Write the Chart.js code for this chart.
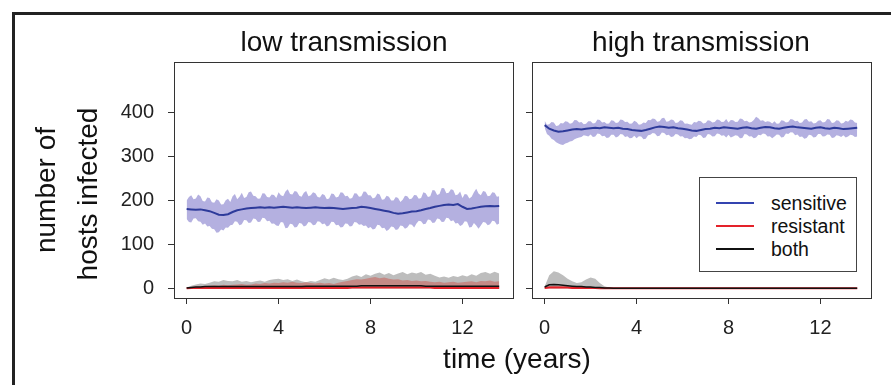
<!DOCTYPE html>
<html>
<head>
<meta charset="utf-8">
<title>number of hosts infected</title>
<script src="https://cdn.jsdelivr.net/npm/chart.js@4.4.1/dist/chart.umd.min.js"></script>
<style>
  html, body { margin: 0; padding: 0; background: #fff; }
  body {
    width: 891px; height: 385px; position: relative; overflow: hidden;
    font-family: 'Liberation Sans', Arial, sans-serif; color: #111;
  }
  .frame {
    position: absolute; left: 12px; top: 12px; width: 900px; height: 400px;
    border-top: 3px solid #222; border-left: 3px solid #222;
  }
  canvas { position: absolute; left: 0; top: 0; }
  .lbl { position: absolute; font-size: 28px; line-height: 28px; white-space: nowrap; }
  .title { top: 28px; transform: translateX(-50%); }
  .ylab { transform: translate(-50%, -50%) rotate(-90deg); }
  .legend {
    position: absolute; left: 699px; top: 177px; width: 158px; height: 95px;
    border: 1px solid #444; background: #fff; box-sizing: border-box;
  }
  .legend div { position: absolute; left: 71px; font-size: 19.5px; line-height: 20px; }
  .legend span { position: absolute; left: -55px; top: 9px; width: 38px; height: 2px; }
</style>
</head>
<body>
<div class="frame"></div>

<canvas id="lowChart" width="891" height="385"></canvas>
<canvas id="highChart" width="891" height="385"></canvas>

<div class="lbl title" style="left:344px">low transmission</div>
<div class="lbl title" style="left:701px">high transmission</div>
<div class="lbl ylab" style="left:46px; top:190px">number of</div>
<div class="lbl ylab" style="left:88px; top:194px">hosts infected</div>
<div class="lbl title" style="left:517px; top:345px">time (years)</div>

<div class="legend" id="legend"></div>

<script>
// sampling times (years) of the running means, every 0.2 year
const years = [
  0, 0.2, 0.4, 0.6, 0.8, 1, 1.2, 1.4, 1.6, 1.8,
  2, 2.2, 2.4, 2.6, 2.8, 3, 3.2, 3.4, 3.6, 3.8,
  4, 4.2, 4.4, 4.6, 4.8, 5, 5.2, 5.4, 5.6, 5.8,
  6, 6.2, 6.4, 6.6, 6.8, 7, 7.2, 7.4, 7.6, 7.8,
  8, 8.2, 8.4, 8.6, 8.8, 9, 9.2, 9.4, 9.6, 9.8,
  10, 10.2, 10.4, 10.6, 10.8, 11, 11.2, 11.4, 11.6, 11.8,
  12, 12.2, 12.4, 12.6, 12.8, 13, 13.2, 13.4, 13.6
];
// finer sampling for the noisy "sensitive" envelopes, every 0.1 year
const bandYears = [
  0, 0.1, 0.2, 0.3, 0.4, 0.5, 0.6, 0.7, 0.8, 0.9,
  1, 1.1, 1.2, 1.3, 1.4, 1.5, 1.6, 1.7, 1.8, 1.9,
  2, 2.1, 2.2, 2.3, 2.4, 2.5, 2.6, 2.7, 2.8, 2.9,
  3, 3.1, 3.2, 3.3, 3.4, 3.5, 3.6, 3.7, 3.8, 3.9,
  4, 4.1, 4.2, 4.3, 4.4, 4.5, 4.6, 4.7, 4.8, 4.9,
  5, 5.1, 5.2, 5.3, 5.4, 5.5, 5.6, 5.7, 5.8, 5.9,
  6, 6.1, 6.2, 6.3, 6.4, 6.5, 6.6, 6.7, 6.8, 6.9,
  7, 7.1, 7.2, 7.3, 7.4, 7.5, 7.6, 7.7, 7.8, 7.9,
  8, 8.1, 8.2, 8.3, 8.4, 8.5, 8.6, 8.7, 8.8, 8.9,
  9, 9.1, 9.2, 9.3, 9.4, 9.5, 9.6, 9.7, 9.8, 9.9,
  10, 10.1, 10.2, 10.3, 10.4, 10.5, 10.6, 10.7, 10.8, 10.9,
  11, 11.1, 11.2, 11.3, 11.4, 11.5, 11.6, 11.7, 11.8, 11.9,
  12, 12.1, 12.2, 12.3, 12.4, 12.5, 12.6, 12.7, 12.8, 12.9,
  13, 13.1, 13.2, 13.3, 13.4, 13.5, 13.6
];

const xTicks = [0, 4, 8, 12];
const yTicks = [0, 100, 200, 300, 400];
const seriesNames = ['sensitive', 'resistant', 'both'];

/* low transmission */
const lowSensMean = [
  181, 180, 179, 180, 178, 176, 172, 168, 167, 169,
  174, 178, 180, 182, 183, 184, 185, 184, 185, 184,
  185, 186, 185, 184, 185, 184, 183, 184, 185, 184,
  183, 184, 183, 182, 181, 182, 183, 184, 186, 185,
  183, 181, 179, 177, 175, 172, 170, 171, 173, 175,
  176, 178, 181, 183, 186, 188, 190, 191, 190, 192,
  186, 181, 182, 184, 186, 187, 188, 187, 188
];
const lowSensHigh = [
  200, 208, 212, 203, 205, 214, 210, 199, 198, 207,
  206, 196, 195, 203, 200, 191, 192, 201, 204, 197,
  210, 215, 203, 209, 218, 206, 208, 219, 221, 211,
  210, 204, 205, 217, 216, 208, 207, 214, 213, 206,
  219, 212, 210, 221, 226, 215, 214, 222, 220, 211,
  209, 218, 222, 210, 212, 219, 217, 208, 207, 215,
  213, 203, 205, 216, 215, 207, 209, 219, 218, 210,
  211, 204, 206, 217, 216, 209, 210, 221, 220, 212,
  212, 205, 207, 216, 214, 202, 203, 211, 209, 200,
  200, 208, 206, 197, 202, 211, 210, 203, 205, 213,
  212, 204, 206, 219, 217, 208, 210, 224, 223, 213,
  215, 229, 228, 217, 218, 226, 224, 212, 214, 221,
  206, 215, 214, 205, 209, 219, 227, 216, 212, 222,
  220, 210, 211, 219, 218, 209, 210
];
const lowSensLow = [
  158, 151, 150, 159, 160, 153, 152, 145, 148, 141,
  142, 136, 135, 127, 128, 134, 132, 139, 138, 144,
  145, 153, 152, 144, 146, 156, 155, 149, 150, 159,
  158, 151, 152, 161, 160, 153, 154, 147, 148, 143,
  142, 151, 150, 137, 138, 147, 146, 139, 140, 149,
  148, 141, 143, 151, 150, 144, 145, 153, 152, 146,
  148, 141, 143, 152, 151, 144, 145, 139, 140, 148,
  147, 141, 142, 151, 150, 145, 146, 142, 143, 137,
  140, 134, 136, 145, 144, 137, 138, 131, 134, 141,
  140, 133, 135, 143, 142, 136, 139, 146, 145, 139,
  148, 154, 153, 146, 147, 157, 156, 149, 150, 159,
  158, 151, 152, 161, 160, 153, 155, 148, 149, 142,
  145, 153, 152, 139, 140, 149, 143, 136, 143, 151,
  150, 144, 146, 154, 153, 145, 148
];
const lowResMean = [
  0, 1, 1, 1, 1, 1, 1, 1, 1, 1,
  1, 1, 1, 1, 1, 1, 1, 1, 1, 1,
  1, 1, 1, 1, 1, 1, 1, 1, 1, 1,
  1, 1, 1, 1, 1, 1, 2, 2, 2, 2,
  2, 2, 2, 2, 2, 2, 2, 2, 2, 2,
  2, 2, 2, 2, 1, 1, 1, 1, 1, 1,
  1, 1, 1, 1, 1, 1, 1, 1, 1
];
const lowResHigh = [
  1, 3, 4, 5, 5, 6, 7, 6, 8, 7,
  8, 9, 10, 8, 9, 11, 10, 12, 11, 13,
  12, 14, 13, 15, 13, 12, 14, 12, 11, 13,
  11, 12, 10, 13, 15, 17, 19, 21, 20, 22,
  24, 26, 23, 25, 22, 20, 21, 18, 19, 17,
  18, 16, 17, 15, 14, 15, 13, 14, 15, 13,
  14, 15, 16, 14, 17, 16, 18, 15, 16
];
const lowBothMean = [
  1, 2, 3, 3, 4, 4, 4, 4, 4, 4,
  4, 4, 4, 4, 4, 4, 4, 4, 4, 4,
  4, 4, 4, 4, 4, 4, 5, 5, 5, 5,
  5, 5, 5, 5, 5, 5, 5, 5, 6, 6,
  6, 6, 6, 6, 6, 6, 6, 6, 6, 6,
  6, 6, 5, 5, 5, 5, 5, 5, 5, 5,
  5, 5, 5, 5, 5, 5, 5, 5, 5
];
const lowBothHigh = [
  2, 6, 9, 11, 10, 13, 16, 15, 19, 17,
  16, 19, 15, 17, 14, 16, 18, 15, 19, 21,
  22, 19, 21, 17, 20, 16, 14, 17, 15, 19,
  23, 20, 24, 21, 19, 22, 27, 30, 26, 32,
  29, 33, 36, 31, 35, 30, 34, 37, 32, 36,
  34, 37, 31, 33, 29, 25, 27, 24, 28, 26,
  30, 27, 32, 29, 35, 37, 33, 38, 34
];

/* high transmission */
const highSensMean = [
  372, 364, 360, 357, 358, 360, 362, 363, 362, 364,
  365, 366, 365, 367, 366, 365, 366, 364, 363, 361,
  360, 359, 361, 364, 367, 369, 368, 366, 367, 365,
  364, 362, 360, 359, 361, 363, 364, 366, 365, 367,
  366, 365, 364, 366, 367, 365, 364, 366, 368, 367,
  365, 364, 366, 368, 369, 367, 366, 365, 364, 366,
  367, 365, 364, 366, 365, 363, 364, 365, 366
];
const highSensHigh = [
  382, 373, 374, 379, 378, 370, 371, 377, 376, 381,
  380, 375, 377, 384, 383, 378, 379, 374, 375, 381,
  381, 376, 377, 385, 384, 378, 379, 375, 376, 383,
  382, 377, 378, 385, 384, 379, 380, 375, 376, 382,
  379, 373, 374, 378, 377, 384, 383, 387, 386, 380,
  381, 388, 389, 380, 381, 385, 384, 377, 378, 383,
  382, 375, 376, 374, 373, 379, 378, 382, 381, 376,
  377, 383, 382, 378, 379, 385, 384, 379, 380, 386,
  378, 384, 383, 379, 380, 387, 386, 381, 382, 378,
  379, 384, 391, 388, 382, 383, 379, 381, 380, 376,
  381, 375, 376, 383, 382, 378, 379, 386, 385, 381,
  382, 377, 378, 385, 386, 380, 381, 376, 377, 382,
  383, 378, 379, 386, 385, 377, 378, 383, 382, 376,
  377, 382, 380, 385, 384, 378, 377
];
const highSensLow = [
  366, 352, 348, 341, 338, 333, 330, 328, 327, 330,
  332, 335, 336, 340, 342, 344, 345, 349, 348, 346,
  351, 345, 346, 353, 352, 347, 348, 343, 344, 350,
  350, 344, 346, 352, 351, 345, 347, 342, 343, 348,
  342, 347, 346, 340, 341, 349, 350, 354, 353, 347,
  348, 355, 354, 349, 350, 345, 346, 352, 351, 346,
  347, 342, 343, 340, 341, 346, 345, 350, 349, 343,
  344, 352, 351, 346, 347, 353, 352, 348, 349, 344,
  350, 344, 346, 349, 348, 342, 343, 352, 351, 346,
  347, 342, 344, 350, 349, 353, 352, 346, 347, 342,
  346, 351, 350, 344, 345, 353, 352, 356, 355, 349,
  351, 345, 346, 341, 343, 350, 349, 344, 345, 352,
  352, 346, 347, 351, 350, 343, 344, 349, 348, 345,
  349, 344, 346, 350, 349, 345, 346
];
const highResMean = [
  1, 2, 2, 2, 2, 2, 1, 1, 1, 1,
  1, 1, 0, 0, 0, 0, 0, 0, 0, 0,
  0, 0, 0, 0, 0, 0, 0, 0, 0, 0,
  0, 0, 0, 0, 0, 0, 0, 0, 0, 0,
  0, 0, 0, 0, 0, 0, 0, 0, 0, 0,
  0, 0, 0, 0, 0, 0, 0, 0, 0, 0,
  0, 0, 0, 0, 0, 0, 0, 0, 0
];
const highResHigh = [
  2, 5, 6, 6, 5, 5, 4, 4, 3, 3,
  3, 2, 1, 1, 0, 0, 0, 0, 0, 0,
  0, 0, 0, 0, 0, 0, 0, 0, 0, 0,
  0, 0, 0, 0, 0, 0, 0, 0, 0, 0,
  0, 0, 0, 0, 0, 0, 0, 0, 0, 0,
  0, 0, 0, 0, 0, 0, 0, 0, 0, 0,
  0, 0, 0, 0, 0, 0, 0, 0, 0
];
const highBothMean = [
  3, 8, 9, 8, 7, 6, 5, 4, 4, 3,
  3, 2, 2, 1, 1, 0.5, 0, 0, 0, 0,
  0, 0, 0, 0, 0, 0, 0, 0, 0, 0,
  0, 0, 0, 0, 0, 0, 0, 0, 0, 0,
  0, 0, 0, 0, 0, 0, 0, 0, 0, 0,
  0, 0, 0, 0, 0, 0, 0, 0, 0, 0,
  0, 0, 0, 0, 0, 0, 0, 0, 0
];
const highBothHigh = [
  4, 30, 39, 36, 30, 22, 16, 12, 14, 20,
  25, 22, 12, 5, 2, 1, 0, 0, 0, 0,
  0, 0, 0, 0, 0, 0, 0, 0, 0, 0,
  0, 0, 0, 0, 0, 0, 0, 0, 0, 0,
  0, 0, 0, 0, 0, 0, 0, 0, 0, 0,
  0, 0, 0, 0, 0, 0, 0, 0, 0, 0,
  0, 0, 0, 0, 0, 0, 0, 0, 0
];

const FONT = "'Liberation Sans', Arial, sans-serif";
const BLUE = '#2d3a9a';
const LAVENDER = '#b4b0e0';
const RED = '#e4222a';
const RED_BAND = '#c48a86';
const GRAY_BAND = '#bdbdbd';
const BLACK = '#111';
const lineColors = ['#3444b0', RED, BLACK];

/* R-style box around each panel */
const panelBox = {
  id: 'panelBox',
  afterDraw(chart) {
    const { ctx, chartArea: a } = chart;
    ctx.save();
    ctx.strokeStyle = '#333';
    ctx.lineWidth = 1;
    ctx.strokeRect(Math.round(a.left) + 0.5, Math.round(a.top) + 0.5,
      Math.round(a.right - a.left), Math.round(a.bottom - a.top));
    ctx.restore();
  },
};

function pts(values, xs) {
  return values.map((v, i) => ({ x: xs[i], y: v }));
}

function band(values, xs, color, fill, order) {
  return {
    data: pts(values, xs),
    backgroundColor: color,
    borderColor: 'transparent',
    borderWidth: 0,
    fill,
    order,
  };
}

function line(values, color, width, order) {
  return {
    data: pts(values, years),
    borderColor: color,
    borderWidth: width,
    fill: false,
    order,
  };
}

function buildPanel(id, s, padLeft, padRight, showYLabels) {
  const ctx = document.getElementById(id);
  new Chart(ctx, {
    type: 'line',
    data: {
      datasets: [
        band(s.bothHigh, years, GRAY_BAND, 'origin', 9),
        band(s.resHigh, years, RED_BAND, 'origin', 8),
        band(s.sensLow, bandYears, 'transparent', false, 7),
        band(s.sensHigh, bandYears, LAVENDER, '-1', 6),
        line(s.resMean, RED, 2, 3),
        line(s.bothMean, BLACK, 1.5, 2),
        line(s.sensMean, BLUE, 2, 1),
      ],
    },
    options: {
      responsive: false,
      animation: false,
      events: [],
      layout: { padding: { left: padLeft, right: padRight, top: 62, bottom: 37 } },
      elements: { point: { radius: 0 }, line: { tension: 0 } },
      plugins: { legend: { display: false }, tooltip: { enabled: false } },
      scales: {
        x: {
          type: 'linear',
          min: -0.55,
          max: 14.2,
          afterBuildTicks: (sc) => { sc.ticks = xTicks.map((v) => ({ value: v })); },
          afterFit: (sc) => { sc.height = 50; },
          border: { display: false },
          grid: { drawOnChartArea: false, drawTicks: true, tickLength: 6, color: '#333' },
          ticks: { color: '#222', font: { family: FONT, size: 20 }, padding: 12, maxRotation: 0 },
        },
        y: {
          min: -22,
          max: 516,
          afterBuildTicks: (sc) => { sc.ticks = yTicks.map((v) => ({ value: v })); },
          afterFit: (sc) => { sc.width = 60; },
          border: { display: false },
          grid: { drawOnChartArea: false, drawTicks: true, tickLength: 6, color: '#333' },
          ticks: { display: showYLabels, color: '#222', font: { family: FONT, size: 20 }, padding: 14 },
        },
      },
    },
    plugins: [panelBox],
  });
}

buildPanel('lowChart', {
  sensMean: lowSensMean, sensHigh: lowSensHigh, sensLow: lowSensLow,
  resMean: lowResMean, resHigh: lowResHigh,
  bothMean: lowBothMean, bothHigh: lowBothHigh,
}, 114, 378, true);

buildPanel('highChart', {
  sensMean: highSensMean, sensHigh: highSensHigh, sensLow: highSensLow,
  resMean: highResMean, resHigh: highResHigh,
  bothMean: highBothMean, bothHigh: highBothHigh,
}, 472, 20, false);

/* legend inside the high transmission panel */
const legendEl = document.getElementById('legend');
seriesNames.forEach((name, i) => {
  const row = document.createElement('div');
  row.style.top = (15 + i * 23) + 'px';
  row.textContent = name;
  const swatch = document.createElement('span');
  swatch.style.background = lineColors[i];
  row.appendChild(swatch);
  legendEl.appendChild(row);
});
</script>
</body>
</html>
